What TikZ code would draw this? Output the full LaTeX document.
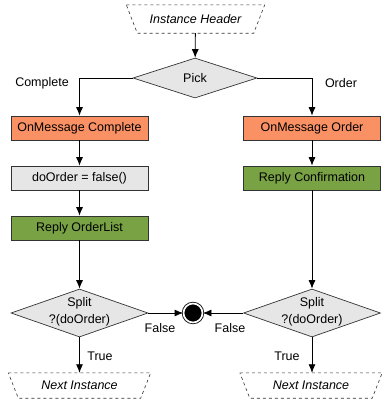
\documentclass[tikz,border=0pt]{standalone}
\usepackage{fontspec}
\setmainfont{Liberation Sans}
\usetikzlibrary{shapes.geometric,arrows.meta}
\definecolor{msgorange}{HTML}{FA9164}
\definecolor{actgreen}{HTML}{78A243}
\definecolor{decgray}{HTML}{E6E6E6}
\tikzset{
  every node/.style={font=\fontsize{12.5}{17}\selectfont},
  flow/.style={draw=black, line width=0.8pt, -{Latex[length=8.5pt,width=7pt]}},
  msgbox/.style={rectangle, draw=black!80, line width=0.7pt, fill=msgorange,
    minimum width=137pt, minimum height=24pt, inner sep=0pt},
  actbox/.style={rectangle, draw=black!80, line width=0.7pt, fill=actgreen,
    minimum width=137pt, minimum height=24pt, inner sep=0pt},
  stmtbox/.style={rectangle, draw=black!80, line width=0.7pt, fill=decgray,
    minimum width=137pt, minimum height=24pt, inner sep=0pt},
  decision/.style={diamond, draw=black!80, line width=0.7pt, fill=decgray,
    inner sep=0pt},
  dectext/.style={align=center, inner sep=0pt},
  instance/.style={rectangle, inner sep=0pt,
    font=\fontsize{12.5}{14}\selectfont\itshape},
  dashedge/.style={draw=black!80, dashed, line width=0.6pt},
  endstate/.style={circle, draw=black, fill=black, double=white, double distance=1.7pt,
    line width=0.8pt, minimum size=19pt, inner sep=0pt},
  lbl/.style={inner sep=0pt}
}
\begin{document}
\begin{tikzpicture}[x=1pt, y=-1pt]
\useasboundingbox (0,0) rectangle (382,400);

% start marker and first choice
\node[instance, minimum width=138pt, minimum height=28pt] (head) at (195.5,19) {Instance Header};
\draw[dashedge] (head.north west) -- (head.north east)
  -- ([xshift=-11pt]head.south east) -- ([xshift=11pt]head.south west) -- cycle;
\node[decision, minimum width=124pt, minimum height=40pt] (pick) at (195,78) {};
\node[dectext] (picktext) at (pick) {Pick};

% left branch
\node[msgbox] (oncomplete) at (79.5,128) {OnMessage Complete};
\node[stmtbox] (assign) at (79.5,178) {doOrder = false()};
\node[actbox] (replylist) at (79.5,228) {Reply OrderList};
\node[decision, minimum width=137pt, minimum height=48pt] (splitl) at (79.5,313) {};
\node[dectext] (splitltext) at (79.5,312) {Split\\?(doOrder)};
\node[instance, minimum width=142pt, minimum height=25pt] (nextl) at (79.5,385.5) {Next Instance};
\draw[dashedge] (nextl.north west) -- (nextl.north east)
  -- ([xshift=-10pt]nextl.south east) -- ([xshift=10pt]nextl.south west) -- cycle;

% right branch
\node[msgbox] (onorder) at (312,128) {OnMessage Order};
\node[actbox] (replyconf) at (312,178) {Reply Confirmation};
\node[decision, minimum width=137pt, minimum height=48pt] (splitr) at (312,313) {};
\node[dectext] (splitrtext) at (312,312) {Split\\?(doOrder)};
\node[instance, minimum width=142pt, minimum height=25pt] (nextr) at (311,385.5) {Next Instance};
\draw[dashedge] (nextr.north west) -- (nextr.north east)
  -- ([xshift=-10pt]nextr.south east) -- ([xshift=10pt]nextr.south west) -- cycle;

% end state
\node[endstate] (finish) at (193,313) {};

% connectors
\draw[flow] (head) -- (pick);
\draw[flow] (pick.west) -| (oncomplete.north);
\draw[flow] (pick.east) -| (onorder.north);
\draw[flow] (oncomplete) -- (assign);
\draw[flow] (assign) -- (replylist);
\draw[flow] (replylist) -- (splitl.north);
\draw[flow] (onorder) -- (replyconf);
\draw[flow] (replyconf) -- (splitr.north);
\draw[flow] (splitl.east) -- (finish);
\draw[flow] (splitr.west) -- (finish);
\draw[flow] (splitl.south) -- (nextl.north);
\draw[flow] (splitr.south) -- (splitr.south |- nextr.north);

% branch labels
\node[lbl] (lcomplete) at (42,83) {Complete};
\node[lbl] (lorder) at (341,83) {Order};
\node[lbl] (lfalsel) at (160,328) {False};
\node[lbl] (lfalser) at (230,328) {False};
\node[lbl] (ltruel) at (100,356) {True};
\node[lbl] (ltruer) at (287,356) {True};
\end{tikzpicture}
\end{document}
